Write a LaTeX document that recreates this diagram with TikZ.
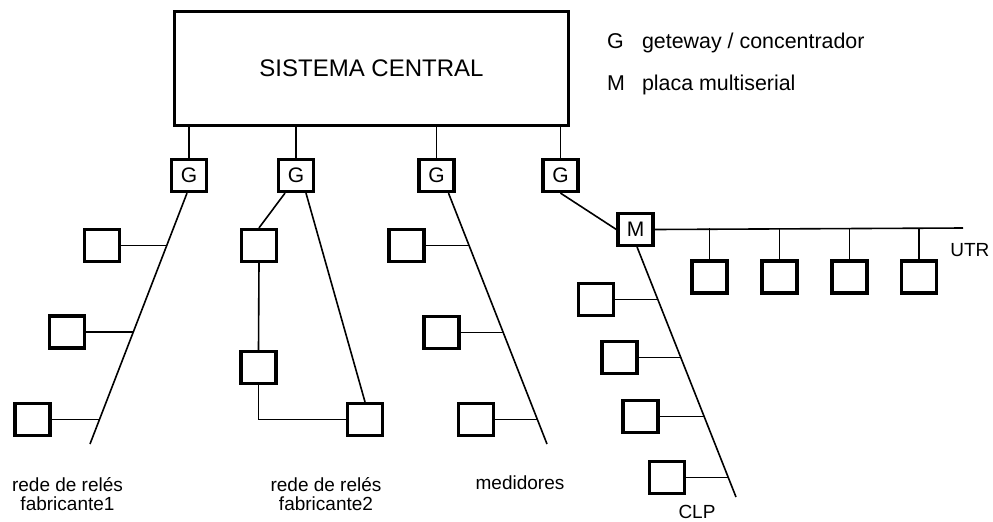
\documentclass[tikz,border=0pt]{standalone}
\usepackage{fontspec}
\setmainfont{Liberation Sans}
\usepackage{tikz}
\usetikzlibrary{calc}

\begin{document}
\begin{tikzpicture}[x=0.5pt, y=-0.5pt,
    caixa/.style={draw, line width=1.6pt, minimum width=17.5pt, minimum height=16pt, inner sep=0pt, font=\fontsize{10.5}{12}\selectfont},
    linha/.style={line width=0.8pt},
    rotulo/.style={align=center, font=\fontsize{9.5}{9.3}\selectfont}]

    \useasboundingbox (0,0) rectangle (993,521);

    % sistema central e gateways
    \node[draw, line width=1.6pt, minimum width=197pt, minimum height=57pt, font=\fontsize{12}{14}\selectfont] (sc) at (371.5,68.5) {SISTEMA CENTRAL};
    \node[caixa] (g1) at (189,175.5) {G};
    \node[caixa] (g2) at (296,175.5) {G};
    \node[caixa] (g3) at (436.5,175.5) {G};
    \node[caixa] (g4) at (560.5,175.5) {G};
    \draw[linha] (g1.north) -- (g1.north |- sc.south);
    \draw[linha] (g2.north) -- (g2.north |- sc.south);
    \draw[linha] (g3.north) -- (g3.north |- sc.south);
    \draw[linha] (g4.north) -- (g4.north |- sc.south);

    % legenda
    \node[anchor=base west, font=\fontsize{10.7}{12}\selectfont] (lg) at (600,48) {G};
    \node[anchor=base west, font=\fontsize{10.7}{12}\selectfont] (lgt) at (635,48) {geteway / concentrador};
    \node[anchor=base west, font=\fontsize{10.7}{12}\selectfont] (lm) at (600,90) {M};
    \node[anchor=base west, font=\fontsize{10.7}{12}\selectfont] (lmt) at (635,90) {placa multiserial};

    % rede de reles fabricante1
    \node[caixa] (r11) at (102,245.5) {};
    \node[caixa] (r12) at (67,332) {};
    \node[caixa] (r13) at (32.5,419.5) {};
    \coordinate (e1) at (90,444);
    \coordinate (t11) at (167.3,245.5);
    \coordinate (t12) at (133.6,332);
    \coordinate (t13) at (99.5,419.5);
    \draw[linha] ([xshift=-1pt]g1.south) -- (e1);
    \draw[linha] (r11.east) -- (t11);
    \draw[linha] (r12.east) -- (t12);
    \draw[linha] (r13.east) -- (t13);
    \node[rotulo] (f1) at (67.5,494) {rede de relés\\fabricante1};

    % rede de reles fabricante2
    \node[caixa] (r21) at (259,245.5) {};
    \node[caixa] (r22) at (258.5,367.5) {};
    \node[caixa] (r23) at (365,419.5) {};
    \draw[linha] ([xshift=-5.5pt]g2.south) -- (r21.north);
    \draw[linha] (r21.south) -- (r22.north);
    \draw[linha] (r22.south) |- (r23.west);
    \draw[linha] ([xshift=5pt]g2.south) -- (r23.north);
    \node[rotulo] (f2) at (326,494) {rede de relés\\fabricante2};

    % medidores
    \node[caixa] (r31) at (406.5,245.5) {};
    \node[caixa] (r32) at (441.5,332.5) {};
    \node[caixa] (r33) at (476,419.5) {};
    \coordinate (e3) at (547,444);
    \coordinate (t31) at (468.9,245.5);
    \coordinate (t32) at (503.1,332.5);
    \coordinate (t33) at (537.4,419.5);
    \draw[linha] ([xshift=6pt]g3.south) -- (e3);
    \draw[linha] (r31.east) -- (t31);
    \draw[linha] (r32.east) -- (t32);
    \draw[linha] (r33.east) -- (t33);
    \node[rotulo] (f3) at (520,483) {medidores};

    % placa multiserial, UTR e CLP
    \node[caixa] (m) at (635.5,229.5) {M};
    \draw[linha] (g4.south) -- (m.west);
    \coordinate (e4) at (963,228);
    \draw[linha] (m.east) -- (e4);
    \node[caixa] (u1) at (709.5,277) {};
    \node[caixa] (u2) at (779.5,277) {};
    \node[caixa] (u3) at (849.5,277) {};
    \node[caixa] (u4) at (919,277) {};
    \draw[linha] (u1.north) -- (u1.north |- e4);
    \draw[linha] (u2.north) -- (u2.north |- e4);
    \draw[linha] (u3.north) -- (u3.north |- e4);
    \draw[linha] (u4.north) -- (u4.north |- e4);
    \node[rotulo, anchor=west, inner sep=0pt] (utr) at (950,250) {UTR};

    \node[caixa] (c1) at (596,299.5) {};
    \node[caixa] (c2) at (619.5,357.5) {};
    \node[caixa] (c3) at (640.5,416.5) {};
    \node[caixa] (c4) at (667,477.5) {};
    \coordinate (e5) at (736,497);
    \coordinate (t41) at (657.8,299.5);
    \coordinate (t42) at (680.8,357.5);
    \coordinate (t43) at (704.2,416.5);
    \coordinate (t44) at (728.4,477.5);
    \draw[linha] ([xshift=0.8pt]m.south) -- (e5);
    \draw[linha] (c1.east) -- (t41);
    \draw[linha] (c2.east) -- (t42);
    \draw[linha] (c3.east) -- (t43);
    \draw[linha] (c4.east) -- (t44);
    \node[rotulo] (clp) at (697,512) {CLP};
\end{tikzpicture}
\end{document}
